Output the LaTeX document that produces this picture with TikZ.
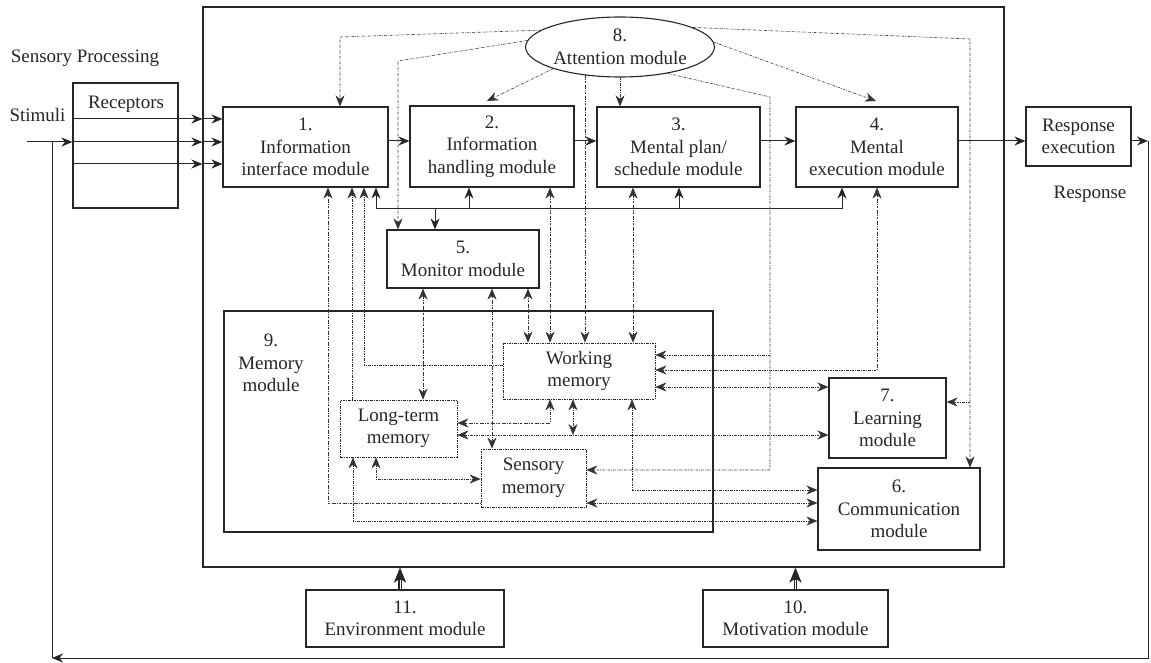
\documentclass[tikz,border=0pt]{standalone}
\usepackage{fontspec}
\setmainfont{Liberation Serif}
\usetikzlibrary{arrows.meta,shapes.geometric}
\newcommand\dfont{\fontsize{19}{22.5}\selectfont}
\begin{document}
\begin{tikzpicture}[x=1pt,y=-1pt,
  hd/.tip={Stealth[length=11pt,width=9pt,inset=3.5pt]},
  fw/.style={-{hd}},
  bw/.style={{hd}-},
  bi/.style={{hd}-{hd}},
  box/.style={draw=black!85, line width=1.1pt, align=center, inner sep=0pt, font=\dfont, text=black!85},
  dbox/.style={box, line width=0.7pt, dash pattern=on 2.5pt off 1.2pt on 0.6pt off 1.2pt},
  lbl/.style={font=\dfont, align=center, text=black!85, inner sep=0pt},
  sl/.style={draw=black!85, line width=1pt},
  dl/.style={draw=black!80, line width=0.6pt, dash pattern=on 2.5pt off 1.2pt on 0.6pt off 1.2pt},
  bigarrow/.style={draw=black!85, line width=3.4pt, -{Stealth[length=15pt,width=12pt,inset=4pt]}},
  bigcore/.style={draw=white, line width=1pt}
]
\useasboundingbox (0,0) rectangle (1151,663);

% ---- boxes ----
\node[box, minimum width=801pt, minimum height=560pt] (outer) at (603.5,287) {};
\node[box, minimum width=105pt, minimum height=125pt] (rec) at (125.5,145.5) {};
\node[lbl] (rectxt) at (126,104) {Receptors};
\node[lbl] (sp) at (85,58) {Sensory Processing};
\node[lbl] (stim) at (37.5,115) {Stimuli};

\node[box, minimum width=165pt, minimum height=80pt] (b1) at (305.5,147) {1.\\Information\\interface module};
\node[box, minimum width=164pt, minimum height=81pt] (b2) at (492,146.5) {2.\\Information\\handling module};
\node[box, minimum width=163pt, minimum height=80pt] (b3) at (678.5,147) {3.\\Mental plan/\\schedule module};
\node[box, minimum width=162pt, minimum height=80pt] (b4) at (877,147) {4.\\Mental\\execution module};
\node[box, minimum width=105pt, minimum height=59pt] (resp) at (1078.5,136.5) {Response\\execution};
\node[lbl] (resplbl) at (1090,194) {Response};
\node[box, ellipse, minimum width=186pt, minimum height=60pt] (att) at (620,47) {8.\\Attention module};

\node[box, minimum width=152pt, minimum height=58pt] (mon) at (463,259) {5.\\Monitor module};
\node[box, minimum width=489pt, minimum height=221pt] (mem) at (468.5,421.5) {};
\node[lbl] (memlbl) at (271,363) {9.\\Memory\\module};
\node[dbox, minimum width=152pt, minimum height=56pt] (wm) at (579,371) {Working\\memory};
\node[dbox, minimum width=117pt, minimum height=57pt] (ltm) at (398.5,428.5) {Long-term\\memory};
\node[dbox, minimum width=105pt, minimum height=58pt] (sen) at (533.5,478) {Sensory\\memory};
\node[box, minimum width=117pt, minimum height=80pt] (learn) at (887.5,418) {7.\\Learning\\module};
\node[box, minimum width=162pt, minimum height=82pt] (comm) at (899,509) {6.\\Communication\\module};
\node[box, minimum width=198pt, minimum height=57pt] (env) at (405,618.5) {11.\\Environment module};
\node[box, minimum width=185pt, minimum height=57pt] (mot) at (795.5,618.5) {10.\\Motivation module};

% ---- solid connectors ----
\coordinate (ry) at (0,141);
\draw[sl,fw] (b1.east |- ry) -- (b2.west |- ry);
\draw[sl,fw] (b2.east |- ry) -- (b3.west |- ry);
\draw[sl,fw] (b3.east |- ry) -- (b4.west |- ry);
\draw[sl,fw] (b4.east |- ry) -- (resp.west |- ry);
\coordinate (fbR) at (1148,141);
\coordinate (fbBR) at (1148,658);
\coordinate (fbBL) at (52,658);
\coordinate (fbTL) at (52,142);
\draw[sl,fw] (resp.east |- ry) -- (fbR);
\draw[sl,fw] (fbR) -- (fbBR) -- (fbBL);
\draw[sl] (fbBL) -- (fbTL);
\coordinate (st) at (27,142);
\draw[sl,fw] (st) -- (rec.west |- st);
\foreach \yy in {119,142,164} {
  \draw[sl,fw] (rec.west |- 0,\yy) -- (outer.west |- 0,\yy);
  \draw[sl,fw] (outer.west |- 0,\yy) -- (b1.west |- 0,\yy);
}
\coordinate (busL) at (376,209);
\coordinate (busR) at (842,209);
\draw[sl,bi] (busL |- b1.south) -- (busL) -- (busR) -- (busR |- b4.south);
\coordinate (busM) at (435,209);
\coordinate (bus2) at (469,209);
\coordinate (bus3) at (679,209);
\draw[sl,fw] (busM) -- (busM |- mon.north);
\draw[sl,fw] (bus2) -- (bus2 |- b2.south);
\draw[sl,fw] (bus3) -- (bus3 |- b3.south);
\coordinate (envA) at (400,0);
\draw[bigarrow] (envA |- env.north) -- (envA |- outer.south);
\draw[bigcore] (envA |- env.north) -- ([yshift=-12pt]envA |- outer.south);
\draw[bigarrow] (mot.north) -- (mot.north |- outer.south);
\draw[bigcore] (mot.north) -- ([yshift=-12pt]mot.north |- outer.south);

% ---- attention (dashed) ----
\draw[dl,fw] (att.168) -- (340,37) -- (340,0 |- b1.north);
\draw[dl,fw] (att.176) -- (398,61) -- (398,0 |- mon.north);
\draw[dl,fw] (att.198) -- (487,101);
\draw[dl,fw] (att.219) -- (att.219 |- wm.north);
\draw[dl,fw] (att.south) -- (att.south |- b3.north);
\coordinate (a6) at (770,470);
\coordinate (a6b) at (770,355);
\draw[dl,fw] (att.331) -- (770,97) -- (a6) -- (sen.east |- a6);
\draw[dl,fw] (a6b) -- (wm.east |- a6b);
\draw[dl,fw] (att.3) -- (876,101);
\coordinate (a8) at (970,39);
\coordinate (a8b) at (970,402);
\draw[dl,fw] (att.15) -- (a8) -- (a8 |- comm.north);
\draw[dl,fw] (a8b) -- (learn.east |- a8b);

% ---- other dashed connectors ----
\coordinate (c503) at (328,503);
\draw[dl,bw] (c503 |- b1.south) -- (c503) -- (sen.west |- c503);
\draw[dl,fw] (352,0 |- ltm.north) -- (352,0 |- b1.south);
\coordinate (c365) at (364,365);
\draw[dl,fw] (wm.west |- c365) -- (c365) -- (c365 |- b1.south);
\draw[dl,bi] (423,0 |- ltm.north) -- (423,0 |- mon.south);
\draw[dl,bi] (492,0 |- sen.north) -- (492,0 |- mon.south);
\draw[dl,bi] (528,0 |- wm.north) -- (528,0 |- mon.south);
\draw[dl,bi] (550,0 |- wm.north) -- (550,0 |- b2.south);
\draw[dl,bi] (633,0 |- wm.north) -- (633,0 |- b3.south);
\coordinate (c370) at (877,370);
\draw[dl,bi] (c370 |- b4.south) -- (c370) -- (wm.east |- c370);
\coordinate (c387) at (0,387);
\draw[dl,bi] (wm.east |- c387) -- (learn.west |- c387);
\coordinate (c423) at (550,423);
\draw[dl,bi] (c423 |- wm.south) -- (c423) -- (ltm.east |- c423);
\coordinate (c435) at (573,435);
\draw[dl,bi] (ltm.east |- c435) -- (learn.west |- c435);
\draw[dl,bi] (c435 |- wm.south) -- (c435);
\coordinate (c490) at (632,490);
\draw[dl,bi] (c490 |- wm.south) -- (c490) -- (comm.west |- c490);
\coordinate (c479) at (376,479);
\draw[dl,bi] (c479 |- ltm.south) -- (c479) -- (sen.west |- c479);
\draw[dl,bi] (sen.east |- c503) -- (comm.west |- c503);
\coordinate (c521) at (353,521);
\draw[dl,bi] (c521 |- ltm.south) -- (c521) -- (comm.west |- c521);
\end{tikzpicture}
\end{document}
